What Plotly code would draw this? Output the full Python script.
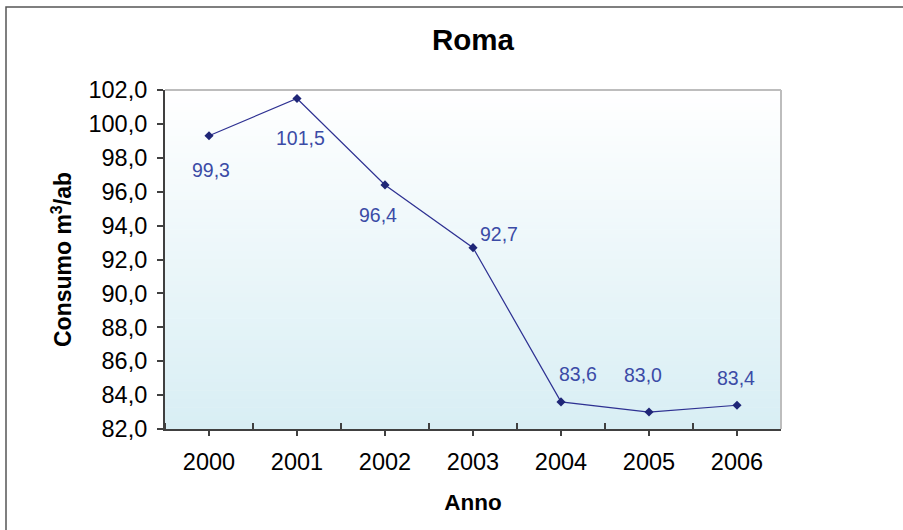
import plotly.graph_objects as go

years = [2000, 2001, 2002, 2003, 2004, 2005, 2006]
consumo = [99.3, 101.5, 96.4, 92.7, 83.6, 83.0, 83.4]
y_ticks = [82, 84, 86, 88, 90, 92, 94, 96, 98, 100, 102]

# label offsets (pixels) relative to each point
label_dx = [2, 3, -7, 26, 17, -6, -1]
label_dy = [-34, -40, -30, 14, 28, 37, 27]

FONT = "Liberation Sans, Arial, sans-serif"

fig = go.Figure()
fig.add_trace(go.Scatter(
    x=years, y=consumo, mode="lines+markers",
    line=dict(color="#2E3192", width=1.2),
    marker=dict(symbol="diamond", size=7, color="#1F2677"),
    hoverinfo="skip", showlegend=False,
))

# gradient background (white top -> light blue bottom)
n = 80
top = (255, 255, 255)
bot = (216, 238, 244)
shapes = []
for i in range(n):
    t = (i + 0.5) / n
    c = tuple(round(bot[k] + (top[k] - bot[k]) * t) for k in range(3))
    shapes.append(dict(type="rect", xref="x domain", yref="y domain",
                       x0=0, x1=1, y0=i / n, y1=(i + 1) / n + 0.002,
                       fillcolor="rgb(%d,%d,%d)" % c, line=dict(width=0),
                       layer="below"))
# plot area border top/right
shapes.append(dict(type="line", xref="x domain", yref="y domain",
                   x0=0, x1=1, y0=1, y1=1, line=dict(color="#BDBDBD", width=2)))
shapes.append(dict(type="line", xref="x domain", yref="y domain",
                   x0=1, x1=1, y0=0, y1=1, line=dict(color="#BDBDBD", width=2)))
# outer chart border (right and bottom edges fall outside the picture)
shapes.append(dict(type="rect", xref="paper", yref="paper",
                   x0=(6 - 165) / 616, x1=1.3, y0=-0.4, y1=(429 - 7) / 339,
                   line=dict(color="#555555", width=1.5), fillcolor="rgba(0,0,0,0)"))

annotations = []
for x, v, dx, dy in zip(years, consumo, label_dx, label_dy):
    annotations.append(dict(
        x=x, y=v, xref="x", yref="y", text=("%.1f" % v).replace(".", ","),
        showarrow=False, xshift=dx, yshift=dy,
        font=dict(family=FONT, size=19.5, color="#3B4BA6"),
        xanchor="center", yanchor="middle"))

fig.update_layout(
    width=903, height=530,
    margin=dict(l=165, r=122, t=90, b=101),
    paper_bgcolor="white", plot_bgcolor="rgba(0,0,0,0)",
    separators=",.",
    font=dict(family=FONT, size=23.5, color="black"),
    title=dict(text="<b>Roma</b>", x=0.5, xref="paper", xanchor="center",
               y=1 - 40 / 530, yref="container", yanchor="middle",
               font=dict(family=FONT, size=29.5, color="black")),
    shapes=shapes, annotations=annotations,
    xaxis=dict(
        range=[1999.5, 2006.5], tickmode="array", tickvals=years,
        ticktext=[str(y) for y in years],
        ticks="outside", ticklen=5, tickcolor="#404040", tickwidth=1.5,
        showline=True, linecolor="#404040", linewidth=2,
        showgrid=False, zeroline=False, ticklabelstandoff=6,
        minor=dict(tickmode="array", tickvals=[1999.5 + i for i in range(8)],
                   ticks="inside", ticklen=6, tickcolor="#404040", tickwidth=1.5,
                   showgrid=False),
        title=dict(text="<b>Anno</b>", standoff=20,
                   font=dict(family=FONT, size=22.5, color="black")),
        tickfont=dict(family=FONT, size=23.5, color="black"),
    ),
    yaxis=dict(
        range=[82, 102], tickmode="array", tickvals=y_ticks, tickformat=".1f",
        ticks="outside", ticklen=6, tickcolor="#404040", tickwidth=1.5,
        showline=True, linecolor="#404040", linewidth=2,
        showgrid=False, zeroline=False, ticklabelstandoff=5,
        title=dict(text="<b>Consumo m<sup>3</sup>/ab</b>", standoff=10,
                   font=dict(family=FONT, size=23, color="black")),
        tickfont=dict(family=FONT, size=23.5, color="black"),
    ),
)

fig.write_html("out.html", config={"displayModeBar": False},
               post_script="document.body.style.margin='0';")
